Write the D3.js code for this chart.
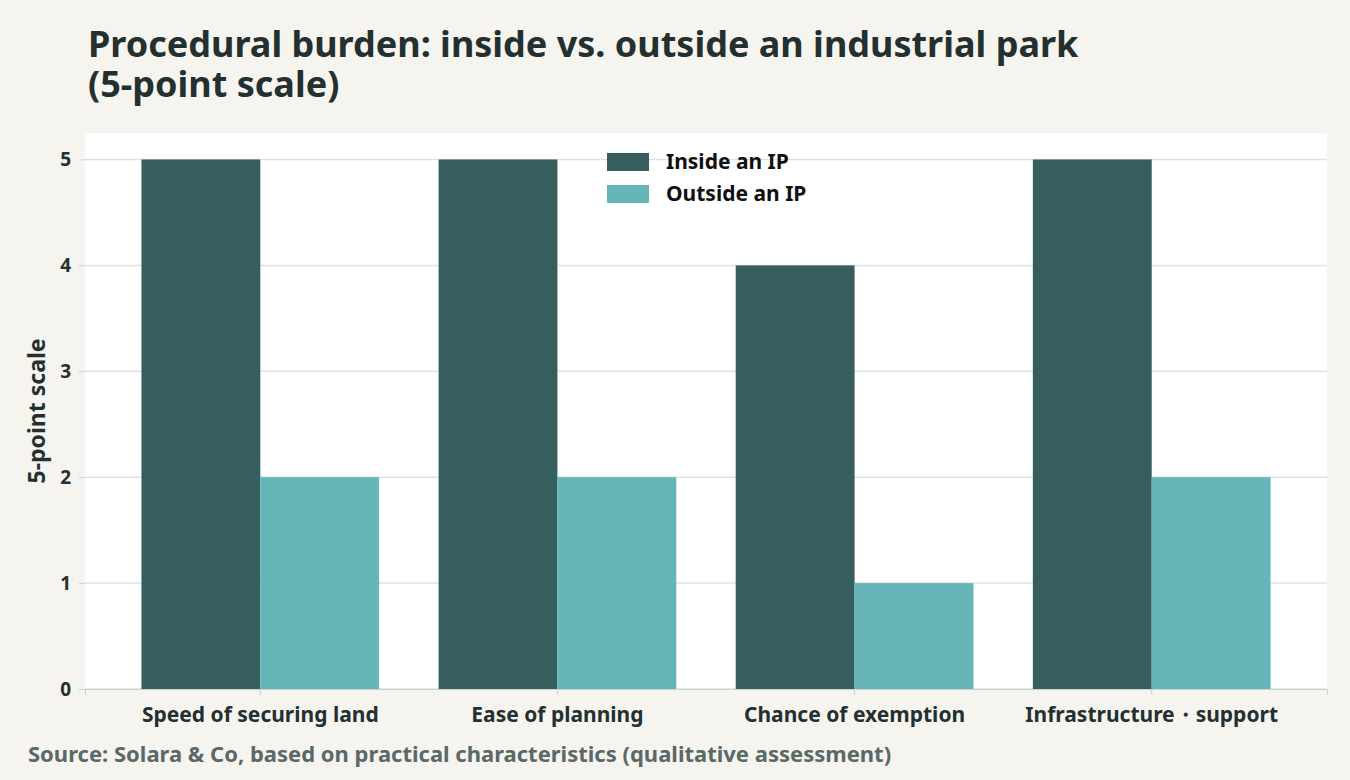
<!DOCTYPE html>
<html><head><meta charset="utf-8">
<script src="https://cdn.jsdelivr.net/npm/d3@7"></script>
<style>
body{margin:0;background:#f5f4ef;font-family:"Source Sans Pro","Noto Sans",sans-serif;}
</style></head>
<body>
<svg id="chart" width="1350" height="780"></svg>
<script>
// data
const categories = ["Speed of securing land", "Ease of planning", "Chance of exemption", "Infrastructure・support"];
const seriesNames = ["Inside an IP", "Outside an IP"];
const insideValues = [5, 5, 4, 5];
const outsideValues = [2, 2, 1, 2];
const yTicks = [0, 1, 2, 3, 4, 5];
const colors = ["#365e5e", "#66b5b9"];

const svg = d3.select("#chart");
const margin = { top: 133, right: 23, bottom: 91, left: 85 },
    width = 1350 - margin.left - margin.right,
    height = 780 - margin.top - margin.bottom;

svg.append("rect").attr("width", 1350).attr("height", 780).attr("fill", "#f5f4ef");

// title
svg.append("text").attr("x", 88).attr("y", 57)
    .attr("font-size", 36).attr("font-weight", 700).attr("fill", "#23302f")
    .text("Procedural burden: inside vs. outside an industrial park");
svg.append("text").attr("x", 88).attr("y", 97)
    .attr("font-size", 36).attr("font-weight", 700).attr("fill", "#23302f")
    .text("(5-point scale)");

const g = svg.append("g").attr("transform", "translate(" + margin.left + "," + margin.top + ")");
g.append("rect").attr("width", width).attr("height", height).attr("fill", "#fff");

const x = d3.scaleBand().domain(categories).range([0, width]).paddingInner(0.2).paddingOuter(0.19);
const xs = d3.scaleBand().domain(seriesNames).range([0, x.bandwidth()]);
const y = d3.scaleLinear().domain([0, 5.25]).range([height, 0]);

// grid
g.selectAll(".grid").data(yTicks).enter().append("line")
    .attr("x1", 0).attr("x2", width)
    .attr("y1", d => y(d)).attr("y2", d => y(d))
    .attr("stroke", "#dde3e3").attr("stroke-width", 1.5);

// bars
const series = [insideValues, outsideValues];
series.forEach(function (vals, si) {
    g.selectAll(".bar" + si).data(vals).enter().append("rect")
        .attr("x", (d, i) => x(categories[i]) + xs(seriesNames[si]))
        .attr("y", d => y(d))
        .attr("width", xs.bandwidth())
        .attr("height", d => height - y(d))
        .attr("fill", colors[si]);
});

// axes
const xAxis = g.append("g").attr("transform", "translate(0," + height + ")")
    .call(d3.axisBottom(x).tickSize(6).tickPadding(12));
xAxis.select(".domain").attr("stroke", "#c9d1d1");
xAxis.selectAll("line").attr("stroke", "#c9d1d1");
xAxis.selectAll("text").attr("font-size", 21).attr("font-weight", 700).attr("fill", "#23302f")
    .attr("font-family", "'Source Sans Pro','Noto Sans',sans-serif");

const yAxis = g.append("g").call(d3.axisLeft(y).tickValues(yTicks).tickFormat(d3.format("d")).tickSize(6).tickPadding(8));
yAxis.select(".domain").remove();
yAxis.selectAll("line").attr("stroke", "#c9d1d1");
yAxis.selectAll("text").attr("font-size", 19).attr("font-weight", 700).attr("fill", "#23302f")
    .attr("font-family", "'Source Sans Pro','Noto Sans',sans-serif");

svg.append("text").attr("transform", "translate(45," + (margin.top + height / 2) + ")rotate(-90)")
    .attr("text-anchor", "middle").attr("font-size", 23).attr("font-weight", 700).attr("fill", "#23302f")
    .text("5-point scale");

// legend
const legend = svg.append("g").attr("transform", "translate(607,153)");
seriesNames.forEach(function (s, i) {
    legend.append("rect").attr("x", 0).attr("y", i * 32).attr("width", 42).attr("height", 18).attr("fill", colors[i]);
    legend.append("text").attr("x", 59).attr("y", i * 32 + 16).attr("font-size", 21).attr("font-weight", 700)
        .attr("fill", "#111").text(s);
});

// source
svg.append("text").attr("x", 28).attr("y", 762).attr("font-size", 22).attr("font-weight", 700)
    .attr("fill", "#5b6868").text("Source: Solara & Co, based on practical characteristics (qualitative assessment)");
</script>
</body></html>
